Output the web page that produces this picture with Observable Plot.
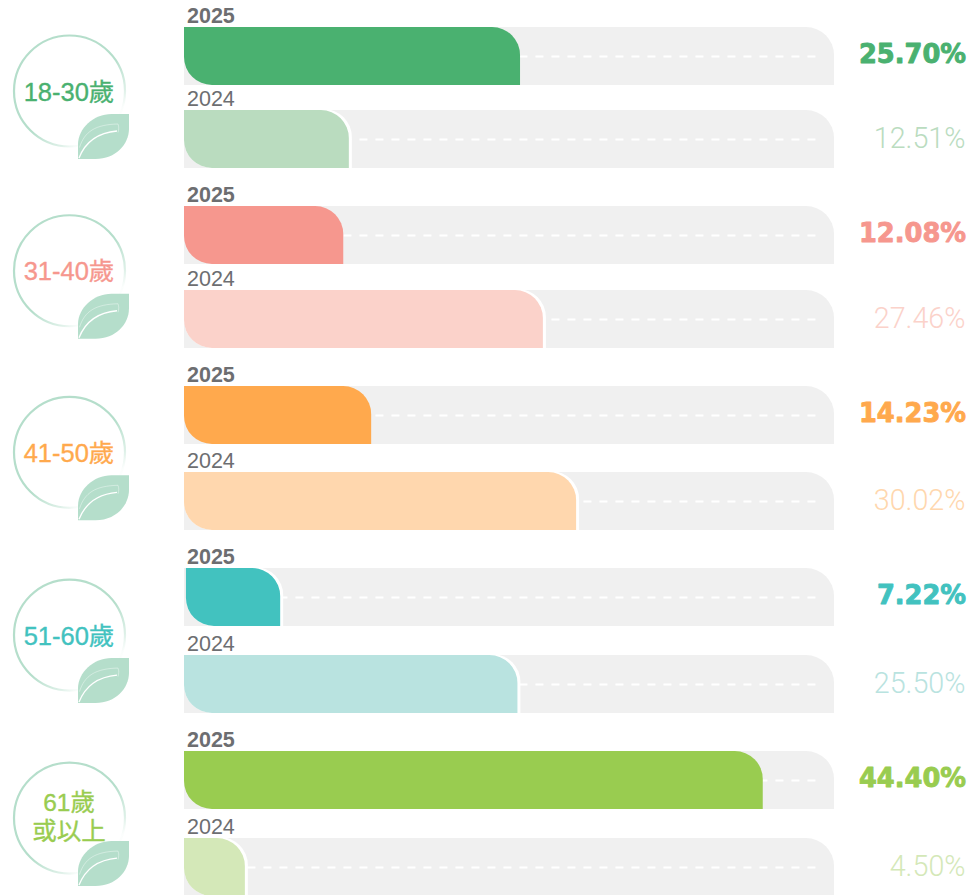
<!DOCTYPE html>
<html lang="zh-Hant">
<head>
<meta charset="utf-8">
<script src="https://cdn.jsdelivr.net/npm/d3@7"></script>
<script src="https://cdn.jsdelivr.net/npm/@observablehq/plot@0.6"></script>
<style>html,body{margin:0;padding:0;background:#fff}svg{display:block}</style>
</head>
<body>
<div id="chart"></div>
<script>
const ageGroups = ["18-30歲", "31-40歲", "41-50歲", "51-60歲", "61歲\n或以上"];
const years = ["2025", "2024"];
const values2025 = [25.70, 12.08, 14.23, 7.22, 44.40];
const values2024 = [12.51, 27.46, 30.02, 25.50, 4.50];
const colors2025 = ["#4ab170", "#f6978e", "#ffa94d", "#42c2bf", "#99cc50"];
const colors2024 = ["#badcbf", "#fbd2ca", "#ffd7ae", "#b9e3e0", "#d4e8b8"];
const outlined2025 = [false, false, false, true, false];
const outlined2024 = [true, true, true, true, true];

const rows = ageGroups.flatMap((group, i) => [
  {row: i * 2, group, year: years[0], value: values2025[i], color: colors2025[i], outlined: outlined2025[i], bold: true},
  {row: i * 2 + 1, group, year: years[1], value: values2024[i], color: colors2024[i], outlined: outlined2024[i], bold: false}
]);
const groupRows = rows.filter(d => d.bold);
const bolds = rows.filter(d => d.bold);
const lights = rows.filter(d => !d.bold);

const xMin = -0.19, xMax = 49.89, dashEnd = 48.46;
const font = "'Liberation Sans','Noto Sans CJK TC',sans-serif";
const leafColor = "#b5decb";

const leaf = {draw(c, size) {
  const k = Math.sqrt(size / Math.PI) / 25.5;
  c.moveTo(25.5 * k, -22.5 * k);
  c.lineTo(8 * k, -22.5 * k);
  c.bezierCurveTo(-10 * k, -22.5 * k, -25.5 * k, -8 * k, -25.5 * k, 8 * k);
  c.lineTo(-25.5 * k, 22.5 * k);
  c.lineTo(-8 * k, 22.5 * k);
  c.bezierCurveTo(12 * k, 22.5 * k, 25.5 * k, 8 * k, 25.5 * k, -8 * k);
  c.closePath();
}};
const veinMain = {draw(c, size) {
  const k = Math.sqrt(size / Math.PI) / 25.5;
  c.moveTo(-24.5 * k, 21.5 * k);
  c.bezierCurveTo(-18 * k, 5 * k, -4 * k, -4 * k, 13.5 * k, -5.5 * k);
}};
const veinThin = {draw(c, size) {
  const k = Math.sqrt(size / Math.PI) / 25.5;
  c.moveTo(-24 * k, 11 * k);
  c.bezierCurveTo(-19 * k, -5 * k, -8 * k, -12 * k, 14.5 * k, -12.5 * k);
  c.bezierCurveTo(15.5 * k, -10 * k, 15.5 * k, -7 * k, 14.5 * k, -4 * k);
}};

const gradientDefs = () => {
  const defs = d3.create("svg:defs");
  const g = defs.append("linearGradient").attr("id", "ring")
    .attr("x1", "15%").attr("y1", "10%").attr("x2", "85%").attr("y2", "90%");
  [[0, 1], [0.55, 1], [0.8, 0.45], [0.9, 0.05], [1, 0]].forEach(([o, a]) =>
    g.append("stop").attr("offset", o).attr("stop-color", leafColor).attr("stop-opacity", a));
  return defs.node();
};

const barStart = d => d.value === 7.22 ? xMin + 0.15 : xMin;
const bar = {
  x1: barStart, x2: "value", y1: "row", y2: "row",
  insetBottom: -58, rx2y1: 28, rx1y2: 28
};
const circleY = d => d.row + 0.765;

const plot = Plot.plot({
  width: 972, height: 895,
  marginTop: 0, marginRight: 0, marginBottom: 0, marginLeft: 0,
  style: {fontFamily: font, background: "#fff", overflow: "visible"},
  x: {type: "linear", domain: [xMin, xMax], range: [184, 834], axis: null},
  y: {type: "linear", domain: d3.range(10), range: [27, 110, 206, 290, 386, 472, 568, 655, 751, 838], axis: null},
  marks: [
    gradientDefs,
    Plot.rect(rows, {x1: () => xMin, x2: () => xMax, y1: "row", y2: "row", insetBottom: -58, fill: "#f0f0f0", rx2y1: 28}),
    Plot.ruleY(rows, {y: "row", dy: 29, x1: () => dashEnd, x2: "value", stroke: "#fff", strokeWidth: 2, strokeDasharray: "8 8"}),
    Plot.rect(rows.filter(d => d.outlined), {...bar, insetRight: -3, insetTop: -1, fill: "#fff"}),
    Plot.rect(rows, {...bar, fill: "color"}),
    Plot.text(bolds, {x: () => xMin, y: "row", dy: -4.9, dx: 2.5, text: "year", textAnchor: "start", lineAnchor: "bottom", fontSize: 21.5, fill: "#6d6e71", fontWeight: 700}),
    Plot.text(lights, {x: () => xMin, y: "row", dy: -4.9, dx: 2.5, text: "year", textAnchor: "start", lineAnchor: "bottom", fontSize: 21.5, fill: "#6d6e71", fontWeight: 400}),
    Plot.text(bolds, {frameAnchor: "right", dx: -6.5, y: "row", dy: 27.5, text: d => d.value.toFixed(2) + "%", textAnchor: "end", lineAnchor: "middle", fontFamily: "'DejaVu Sans',sans-serif", fontWeight: 700, fontSize: 25.7, fill: "color", stroke: "color", strokeWidth: 0.9}),
    Plot.text(lights, {frameAnchor: "right", dx: -7, y: "row", dy: 28, text: d => d.value.toFixed(2) + "%", textAnchor: "end", lineAnchor: "middle", fontFamily: "Roboto,sans-serif", fontWeight: 300, fontSize: 28.7, fill: "color"}),
    Plot.dot(groupRows, {frameAnchor: "left", dx: 69, y: circleY, r: 55.5, fill: "none", stroke: "url(#ring)", strokeWidth: 2.2}),
    Plot.dot(groupRows, {frameAnchor: "left", dx: 103, y: circleY, dy: 45.5, r: 25.5, symbol: leaf, fill: leafColor, stroke: "none"}),
    Plot.dot(groupRows, {frameAnchor: "left", dx: 103, y: circleY, dy: 45.5, r: 25.5, symbol: veinMain, fill: "none", stroke: "#fff", strokeWidth: 1.3}),
    Plot.dot(groupRows, {frameAnchor: "left", dx: 103, y: circleY, dy: 45.5, r: 25.5, symbol: veinThin, fill: "none", stroke: "#fff", strokeWidth: 0.6, strokeOpacity: 0.65}),
    Plot.text(groupRows.filter(d => !d.group.includes("\n")), {frameAnchor: "left", dx: 68.5, y: circleY, dy: 1.5, text: "group", textAnchor: "middle", lineAnchor: "middle", fontSize: 25.5, fill: "color", stroke: "color", strokeWidth: 0.35}),
    Plot.text(groupRows.filter(d => d.group.includes("\n")), {frameAnchor: "left", dx: 68.5, y: circleY, dy: -2, text: "group", textAnchor: "middle", lineAnchor: "middle", fontSize: 24.5, lineHeight: 1.2, fill: "color", stroke: "color", strokeWidth: 0.35})
  ]
});
document.getElementById("chart").append(plot);
</script>
</body>
</html>
